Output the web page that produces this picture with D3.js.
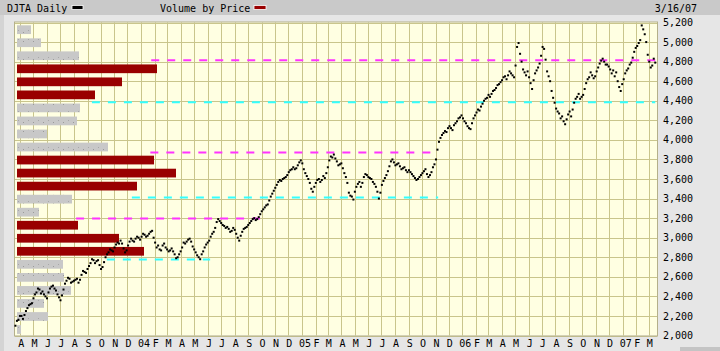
<!DOCTYPE html>
<html>
<head>
<meta charset="utf-8">
<script src="https://cdn.jsdelivr.net/npm/d3@7"></script>
<style>
body { margin:0; background:#e6e6e6; }
text { font-family:"DejaVu Sans Mono", monospace; font-size:10px; }
</style>
</head>
<body>
<div id="main"></div>
<script>
const ctx = {
    width: 720,
    height: 351,
    left: 15,
    right: 657,
    top: 22.5,
    bottom: 335.5
};

// DJTA closes: one end-of-week reading and one mid-week reading
const closeStart = new Date(2003, 2, 21);
const closeEnd = new Date(2007, 2, 16);
const closeValues = [
 2100,2160,2200,2210,2280,2320,2380,2440,2470,2450,2400,2440,2500,2480,2420,2360,2470,2560,2580,2550,
 2570,2540,2620,2650,2680,2740,2770,2760,2720,2700,2800,2850,2870,2900,2950,2970,2890,2870,2960,2970,
 2990,3000,3010,3030,3020,3060,3000,2900,2880,2920,2900,2860,2890,2830,2800,2860,2950,2960,2990,2910,
 2850,2800,2830,2900,2950,3010,3060,3160,3170,3130,3100,3090,3070,3080,3000,3020,3090,3110,3150,3190,
 3180,3210,3270,3310,3340,3420,3480,3540,3590,3600,3620,3670,3700,3700,3740,3790,3700,3630,3560,3470,
 3560,3600,3590,3610,3720,3830,3850,3780,3750,3710,3620,3460,3420,3470,3550,3520,3620,3640,3610,3570,
 3520,3400,3540,3610,3680,3780,3770,3750,3730,3710,3690,3690,3650,3610,3600,3640,3680,3650,3640,3720,
 3800,3980,4050,4090,4120,4120,4150,4190,4230,4220,4170,4120,4170,4250,4310,4340,4400,4430,4440,4500,
 4530,4570,4610,4650,4660,4680,4640,4950,4880,4720,4660,4640,4520,4680,4740,4860,4930,4700,4600,4430,
 4320,4270,4240,4160,4260,4240,4380,4440,4420,4460,4580,4640,4660,4650,4740,4810,4800,4770,4720,4710,
 4690,4540,4570,4680,4730,4790,4900,4960,5020,5130,5000,4800,4760,4790
];
const midValues = [
 2150,2200,2170,2250,2310,2330,2420,2480,2430,2420,2380,2480,2510,2460,2390,2410,2530,2590,2540,2560,
 2580,2570,2660,2640,2710,2780,2740,2770,2680,2750,2830,2880,2860,2930,2940,2940,2850,2920,2990,2960,
 3010,2980,3040,3010,3040,3070,2950,2920,2870,2940,2880,2870,2860,2790,2830,2900,2940,2980,2960,2880,
 2820,2780,2860,2930,2970,3040,3100,3190,3150,3120,3110,3060,3100,3040,2970,3060,3100,3130,3170,3200,
 3190,3240,3290,3330,3380,3450,3510,3570,3580,3610,3640,3690,3720,3710,3770,3760,3660,3600,3500,3520,
 3590,3570,3630,3660,3790,3820,3810,3740,3760,3660,3560,3430,3390,3520,3570,3560,3650,3620,3600,3550,
 3470,3460,3580,3640,3730,3800,3740,3760,3700,3720,3670,3670,3630,3590,3620,3660,3700,3620,3670,3750,
 3900,4020,4070,4080,4140,4100,4170,4220,4250,4190,4140,4110,4220,4280,4300,4370,4420,4460,4470,4510,
 4560,4590,4640,4620,4700,4660,4760,4990,4800,4690,4700,4580,4610,4710,4780,4950,4820,4650,4500,4380,
 4290,4220,4190,4210,4290,4310,4420,4470,4440,4520,4620,4690,4630,4700,4780,4830,4770,4750,4680,4650,
 4600,4500,4620,4710,4770,4840,4940,4990,5170,5080,4870,4740,4830
];

// volume by price: 24 price zones from 5200 down to 2000
const vbpVolume = [14,24,62,140,105,78,63,60,30,91,137,159,120,55,22,61,102,127,46,47,54,27,31,4];
const vbpRed =    [0,0,0,1,1,1,0,0,0,0,1,1,1,0,0,1,1,1,0,0,0,0,0,0];

// support / resistance lines
const levelPrice = [4815, 4385, 3872, 3412, 3196, 2778];
const levelColor = ["#ff33ff", "#33ffff", "#ff33ff", "#33ffff", "#ff33ff", "#33ffff"];
const levelFrom = ["2004-01-24", "2003-09-11", "2004-01-22", "2003-12-11", "2003-08-06", "2003-10-15"];
const levelTo =   ["2007-03-16", "2007-03-16", "2005-11-05", "2005-11-07", "2004-09-28", "2004-06-06"];

const yTicks = d3.range(2000, 5201, 200);
const monthLetters = ["J","F","M","A","M","J","J","A","S","O","N","D"];

function createViz() {
    let svg = d3.select("#main").append("svg")
        .attr("width", ctx.width)
        .attr("height", ctx.height);

    let defs = svg.append("defs");
    let pat = defs.append("pattern").attr("id", "grayDots")
        .attr("width", 10).attr("height", 9).attr("patternUnits", "userSpaceOnUse");
    pat.append("rect").attr("width", 10).attr("height", 9).attr("fill", "#c8c8c8");
    pat.append("rect").attr("x", 3).attr("y", 5).attr("width", 1).attr("height", 1).attr("fill", "#9a9a9a");
    pat.append("rect").attr("x", 8).attr("y", 3).attr("width", 1).attr("height", 1).attr("fill", "#a8a8a8");

    // frame
    svg.append("rect").attr("width", ctx.width).attr("height", ctx.height).attr("fill", "#e6e6e6");
    svg.append("rect").attr("width", 4).attr("height", ctx.height).attr("fill", "#d4d4d4");
    svg.append("rect").attr("width", ctx.width).attr("height", 15).attr("fill", "#c9c9c9");
    svg.append("rect").attr("x", 680).attr("y", 347).attr("width", 40).attr("height", 4).attr("fill", "#c4c4c4");

    svg.append("text").attr("x", 7).attr("y", 11.7).text("DJTA Daily");
    svg.append("rect").attr("x", 72).attr("y", 5.5).attr("width", 11).attr("height", 4)
        .attr("fill", "#000").attr("stroke", "#fff").attr("stroke-width", 0.8);
    svg.append("text").attr("x", 160).attr("y", 11.7).text("Volume by Price");
    svg.append("rect").attr("x", 254).attr("y", 5.5).attr("width", 12).attr("height", 4)
        .attr("fill", "#990000").attr("stroke", "#fff").attr("stroke-width", 0.8);
    svg.append("text").attr("x", 697).attr("y", 11.7).attr("text-anchor", "end").text("3/16/07");

    let x = d3.scaleTime()
        .domain([new Date(2003, 2, 20), new Date(2007, 2, 20)])
        .range([ctx.left, ctx.right]);
    let y = d3.scaleLinear()
        .domain([2000, 5200])
        .range([ctx.bottom, ctx.top]);

    svg.append("rect")
        .attr("x", ctx.left).attr("y", ctx.top - 0.5)
        .attr("width", ctx.right - ctx.left).attr("height", ctx.bottom - ctx.top + 0.5)
        .attr("fill", "#ffffe2");

    // grid
    let months = d3.timeMonth.range(new Date(2003, 3, 1), new Date(2007, 3, 1));
    svg.append("g").selectAll("line").data(months).enter().append("line")
        .attr("x1", d => Math.round(x(d)) + 0.5).attr("x2", d => Math.round(x(d)) + 0.5)
        .attr("y1", ctx.top).attr("y2", ctx.bottom)
        .attr("stroke", "#c9c58c");
    svg.append("g").selectAll("line").data(yTicks).enter().append("line")
        .attr("x1", ctx.left).attr("x2", ctx.right)
        .attr("y1", d => Math.round(y(d)) + 0.5).attr("y2", d => Math.round(y(d)) + 0.5)
        .attr("stroke", "#c9c58c");
    svg.append("rect")
        .attr("x", ctx.left - 0.5).attr("y", ctx.top - 0.5)
        .attr("width", ctx.right - ctx.left + 1).attr("height", ctx.bottom - ctx.top + 1)
        .attr("fill", "none").attr("stroke", "#b4b08a");

    // volume by price bars
    let band = d3.scaleBand()
        .domain(d3.range(vbpVolume.length))
        .range([y(5200), y(2000)])
        .paddingInner(0.33).paddingOuter(0.17);
    let vx = d3.scaleLinear().domain([0, 160]).range([17, 177]);
    svg.append("g").selectAll("rect").data(vbpVolume).enter().append("rect")
        .attr("x", vx(0))
        .attr("y", (d, i) => band(i) + 0.6)
        .attr("width", d => vx(d) - vx(0))
        .attr("height", band.bandwidth())
        .attr("fill", (d, i) => vbpRed[i] ? "#990000" : "url(#grayDots)");

    // levels
    svg.append("g").selectAll("line").data(levelPrice).enter().append("line")
        .attr("x1", (d, i) => x(new Date(levelFrom[i])))
        .attr("x2", (d, i) => x(new Date(levelTo[i])))
        .attr("y1", d => y(d)).attr("y2", d => y(d))
        .attr("stroke", (d, i) => levelColor[i])
        .attr("stroke-width", 2)
        .attr("stroke-dasharray", "8,8");

    // price dots
    let step = (closeEnd - closeStart) / (closeValues.length - 1);
    let closes = closeValues.map((v, i) => ({ date: new Date(+closeStart + i * step), value: v }));
    midValues.forEach((v, i) => {
        closes.push({ date: new Date(+closeStart + (i + 0.5) * step), value: v });
    });
    svg.append("g").selectAll("rect").data(closes).enter().append("rect")
        .attr("x", d => x(d.date) - 1)
        .attr("y", d => y(d.value) - 1)
        .attr("width", 2).attr("height", 2)
        .attr("fill", "#000");

    // axes labels
    svg.append("g").selectAll("text").data(yTicks).enter().append("text")
        .attr("x", 663).attr("y", d => y(d) + 3.6)
        .text(d => d3.format(",")(d));
    svg.append("g").selectAll("text").data(months).enter().append("text")
        .attr("x", d => x(d) + (d.getMonth() == 0 ? 3 : 1))
        .attr("y", 347)
        .attr("text-anchor", "middle")
        .text(d => d.getMonth() == 0 ? d3.timeFormat("%y")(d) : monthLetters[d.getMonth()]);
}

createViz();
</script>
</body>
</html>
